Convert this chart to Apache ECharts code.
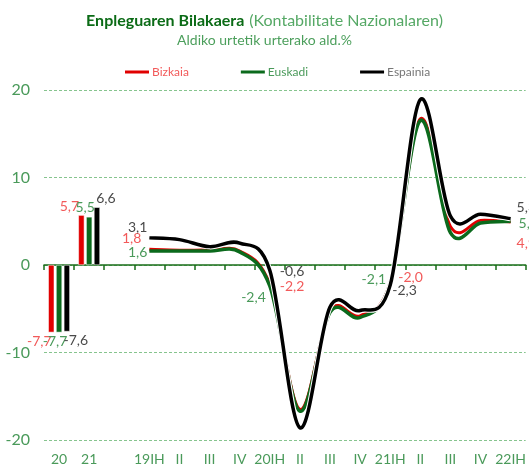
<!DOCTYPE html>
<html>
<head>
<meta charset="utf-8">
<script src="https://cdn.jsdelivr.net/npm/echarts@6/dist/echarts.min.js"></script>
<style>
    html, body { margin: 0; padding: 0; background: #fff; }
    #chart { width: 529px; height: 468px; }
</style>
</head>
<body>
<div id="chart"></div>
<script>
    // x axis: two yearly bars, a gap, then quarters 2019 I .. 2022 I
    const categories = ['20', '21', '', '19IH', 'II', 'III', 'IV', '20IH', 'II', 'III', 'IV', '21IH', 'II', 'III', 'IV', '22IH']

    // yearly totals (2020, 2021)
    const barBizkaia = [-7.7, 5.7]
    const barEuskadi = [-7.7, 5.5]
    const barEspainia = [-7.6, 6.6]

    // quarterly values 19I .. 22I
    const qBizkaia = [1.8, 1.7, 1.7, 1.6, -2.2, -16.5, -5.2, -5.8, -2.0, 16.7, 4.4, 5.1, 4.9]
    const qEuskadi = [1.6, 1.6, 1.6, 1.5, -2.4, -16.7, -5.4, -6.0, -2.1, 16.5, 3.7, 4.8, 5.0]
    const qEspainia = [3.1, 2.9, 2.1, 2.5, -0.6, -18.6, -4.8, -5.2, -2.3, 18.9, 5.6, 5.8, 5.3]
    const qStart = 3   // first quarter sits on category index 3

    const yTicks = [-20, 20, 10]   // min, max, interval

    const RED = '#e00000', GREEN = '#0b6a1c', BLACK = '#000000'
    const RED_TXT = '#f25a5a', GREEN_TXT = '#4a9a5a', BLACK_TXT = '#4a4a4a'
    const FONT = 'Lato'

    const fmt = v => v.toFixed(1).replace('.', ',')

    // which quarterly points get a label and where
    const labelSpots = {
        Bizkaia: {0: ['left', [-6, -11]], 4: ['right', [8, 2]], 8: ['right', [6, -5]], 12: ['right', [4, 21]]},
        Euskadi: {0: ['left', [0, 1]], 4: ['left', [-2, 11]], 8: ['left', [-2, -4]], 12: ['right', [6, 2]]},
        Espainia: {0: ['left', [0, -10]], 4: ['right', [8, 1]], 8: ['right', [0, 5]], 12: ['right', [4, -11]]}
    }

    function barData (vals, color, offX) {
        let out = categories.map(() => null)
        vals.forEach((v, i) => {
            out[i] = {
                value: v,
                label: {
                    show: true,
                    position: v < 0 ? 'bottom' : 'top',
                    distance: 2,
                    offset: [offX, 0],
                    color: color,
                    fontFamily: FONT,
                    fontSize: 14,
                    formatter: p => fmt(p.value)
                }
            }
        })
        return out
    }

    function lineData (vals, name, color) {
        let out = categories.map(() => null)
        vals.forEach((v, i) => {
            let spot = labelSpots[name][i]
            let item = {value: v}
            if (spot) {
                item.label = {
                    show: true,
                    position: spot[0],
                    distance: 2,
                    offset: spot[1],
                    color: color,
                    fontFamily: FONT,
                    fontSize: 14,
                    formatter: p => fmt(p.value)
                }
            }
            out[i + qStart] = item
        })
        return out
    }

    function barSeries (name, vals, color, txt, offX) {
        return {
            name: name,
            type: 'bar',
            barWidth: 6,
            barGap: '30%',
            itemStyle: {color: color, borderColor: '#fff', borderWidth: 0.5},
            data: barData(vals, txt, offX)
        }
    }

    // invisible line: carries the legend entry and the data labels
    function labelSeries (name, vals, color, txt) {
        return {
            name: name,
            type: 'line',
            showSymbol: true,
            symbol: 'circle',
            symbolSize: 0.01,
            lineStyle: {opacity: 0},
            itemStyle: {color: color},
            emphasis: {disabled: true},
            z: 5,
            data: lineData(vals, name, txt)
        }
    }

    // Excel-like smoothed curve (catmull-rom), positions taken from the axes
    function curveSeries (vals, color, width, halo) {
        return {
            type: 'custom',
            silent: true,
            z: 3,
            data: [[qStart, vals[0]]],
            renderItem: (params, api) => {
                let pts = vals.map((v, i) => api.coord([i + qStart, v]))
                let n = pts.length
                let d = 'M' + pts[0][0] + ' ' + pts[0][1]
                for (let i = 0; i < n - 1; i++) {
                    let p0 = pts[Math.max(i - 1, 0)], p1 = pts[i], p2 = pts[i + 1], p3 = pts[Math.min(i + 2, n - 1)]
                    let c1x = p1[0] + (p2[0] - p0[0]) / 6, c1y = p1[1] + (p2[1] - p0[1]) / 6
                    let c2x = p2[0] - (p3[0] - p1[0]) / 6, c2y = p2[1] - (p3[1] - p1[1]) / 6
                    d += ' C' + c1x + ' ' + c1y + ' ' + c2x + ' ' + c2y + ' ' + p2[0] + ' ' + p2[1]
                }
                let children = []
                if (halo) {
                    children.push({type: 'path', shape: {pathData: d}, style: {fill: 'none', stroke: '#fff', lineWidth: width + 2}})
                }
                children.push({type: 'path', shape: {pathData: d}, style: {fill: 'none', stroke: color, lineWidth: width, lineJoin: 'round'}})
                return {type: 'group', children: children}
            }
        }
    }

    let chart = echarts.init(document.getElementById('chart'))
    let option = {
        animation: false,
        backgroundColor: '#fff',
        title: {
            left: 'center',
            top: 7,
            itemGap: 3,
            text: '{a|Enpleguaren Bilakaera} {b|(Kontabilitate Nazionalaren)}',
            textStyle: {
                rich: {
                    a: {fontFamily: FONT, fontSize: 16, fontWeight: 'bold', color: '#0b6b16'},
                    b: {fontFamily: FONT, fontSize: 16, fontWeight: 'normal', color: '#55a865'}
                }
            },
            subtext: 'Aldiko urtetik urterako ald.%',
            subtextStyle: {fontFamily: FONT, fontSize: 14, color: '#4c9f5c'}
        },
        legend: {
            top: 61,
            left: 120,
            itemWidth: 24,
            itemHeight: 3,
            itemGap: 52,
            icon: 'rect',
            textStyle: {fontFamily: FONT, fontSize: 12, padding: [0, 0, 0, -2]},
            data: [
                {name: 'Bizkaia', itemStyle: {color: RED}, textStyle: {color: RED_TXT}},
                {name: 'Euskadi', itemStyle: {color: GREEN}, textStyle: {color: GREEN_TXT}},
                {name: 'Espainia', itemStyle: {color: BLACK}, textStyle: {color: '#777'}}
            ]
        },
        grid: {left: 44, right: 2, top: 90, bottom: 28},
        xAxis: [
            {
                type: 'category',
                data: categories,
                position: 'bottom',
                axisLine: {show: false, onZero: false},
                axisTick: {show: false},
                axisLabel: {interval: 0, fontFamily: FONT, fontSize: 14, color: GREEN_TXT, margin: 12}
            },
            {
                type: 'category',
                data: categories,
                position: 'top',
                axisLine: {show: true, onZero: true, lineStyle: {color: '#1a6e1a', width: 1.5}},
                axisTick: {show: true, inside: true, length: 5, interval: 0, lineStyle: {color: '#1a6e1a', width: 1.5}},
                axisLabel: {show: false}
            }
        ],
        yAxis: {
            type: 'value',
            min: yTicks[0],
            max: yTicks[1],
            interval: yTicks[2],
            axisLine: {show: false},
            axisTick: {show: false},
            axisLabel: {fontFamily: FONT, fontSize: 16, color: GREEN_TXT, margin: 14},
            splitLine: {lineStyle: {color: '#86c48e', type: [3, 2], width: 1}}
        },
        series: [
            barSeries('Bizkaia bar', barBizkaia, RED, RED_TXT, -12),
            barSeries('Euskadi bar', barEuskadi, GREEN, GREEN_TXT, -4),
            barSeries('Espainia bar', barEspainia, BLACK, BLACK_TXT, 9),
            curveSeries(qBizkaia, RED, 3, false),
            curveSeries(qEuskadi, GREEN, 3.5, false),
            curveSeries(qEspainia, BLACK, 3.5, true),
            labelSeries('Bizkaia', qBizkaia, RED, RED_TXT),
            labelSeries('Euskadi', qEuskadi, GREEN, GREEN_TXT),
            labelSeries('Espainia', qEspainia, BLACK, BLACK_TXT)
        ]
    }
    chart.setOption(option)
</script>
</body>
</html>
